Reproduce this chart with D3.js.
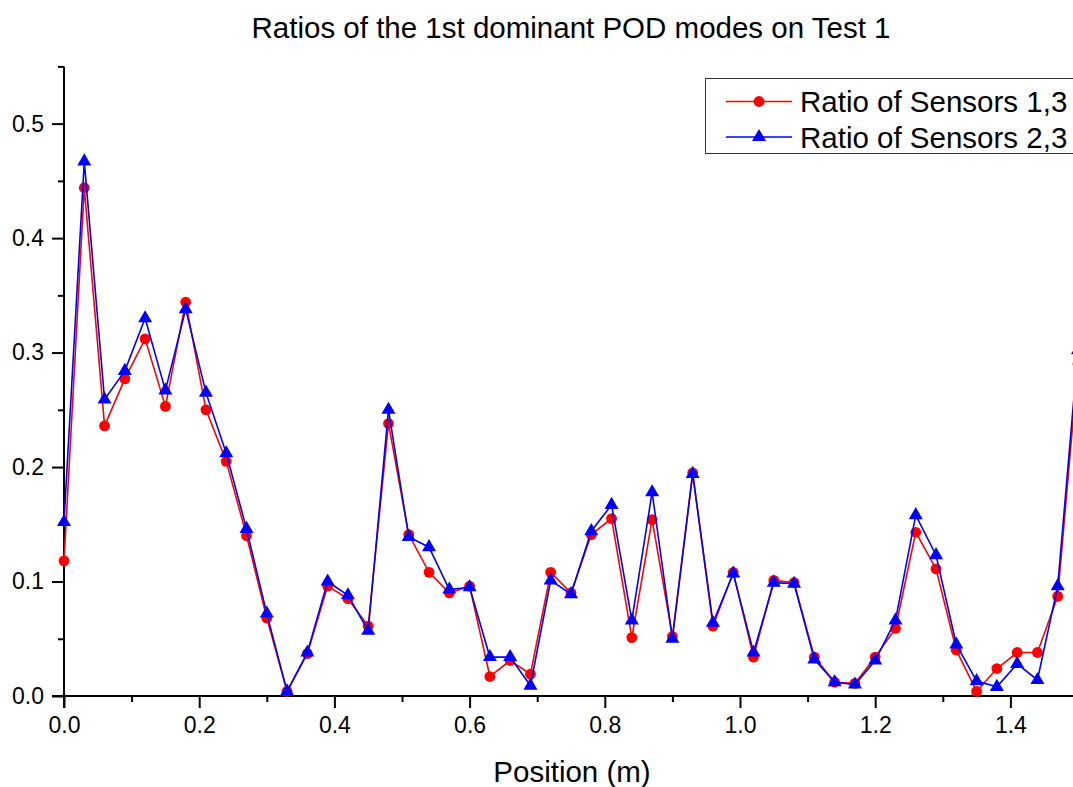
<!DOCTYPE html>
<html>
<head>
<meta charset="utf-8">
<script src="https://cdn.jsdelivr.net/npm/d3@7/dist/d3.min.js"></script>
<style>
  html, body { margin: 0; padding: 0; background: #fff; }
  svg { display: block; font-family: "Liberation Sans", Arial, Helvetica, sans-serif; }
</style>
</head>
<body>
<svg id="chart" width="1073" height="787"></svg>
<script>
// ---------------- data ----------------
const positions = [0.00, 0.03, 0.06, 0.09, 0.12, 0.15, 0.18, 0.21, 0.24, 0.27,
                   0.30, 0.33, 0.36, 0.39, 0.42, 0.45, 0.48, 0.51, 0.54, 0.57,
                   0.60, 0.63, 0.66, 0.69, 0.72, 0.75, 0.78, 0.81, 0.84, 0.87,
                   0.90, 0.93, 0.96, 0.99, 1.02, 1.05, 1.08, 1.11, 1.14, 1.17,
                   1.20, 1.23, 1.26, 1.29, 1.32, 1.35, 1.38, 1.41, 1.44, 1.47,
                   1.50];
const ratio13 = [0.118, 0.444, 0.236, 0.277, 0.312, 0.253, 0.344, 0.250, 0.205, 0.140,
                 0.068, 0.004, 0.037, 0.096, 0.085, 0.061, 0.238, 0.141, 0.108, 0.090,
                 0.096, 0.017, 0.031, 0.019, 0.108, 0.090, 0.141, 0.155, 0.051, 0.154,
                 0.052, 0.195, 0.061, 0.108, 0.034, 0.101, 0.099, 0.034, 0.012, 0.011,
                 0.034, 0.059, 0.143, 0.111, 0.040, 0.004, 0.024, 0.038, 0.038, 0.087,
                 0.290];
const ratio23 = [0.152, 0.467, 0.259, 0.284, 0.330, 0.267, 0.338, 0.265, 0.212, 0.146,
                 0.072, 0.004, 0.038, 0.100, 0.088, 0.057, 0.250, 0.139, 0.130, 0.093,
                 0.095, 0.034, 0.034, 0.009, 0.101, 0.089, 0.144, 0.167, 0.066, 0.178,
                 0.050, 0.194, 0.064, 0.107, 0.038, 0.099, 0.098, 0.032, 0.012, 0.010,
                 0.031, 0.066, 0.158, 0.123, 0.045, 0.013, 0.008, 0.028, 0.014, 0.096,
                 0.302];
const xMajorTicks = [0.0, 0.2, 0.4, 0.6, 0.8, 1.0, 1.2, 1.4];
const xMinorTicks = [0.1, 0.3, 0.5, 0.7, 0.9, 1.1, 1.3, 1.5];
const yMajorTicks = [0.0, 0.1, 0.2, 0.3, 0.4, 0.5];
const yMinorTicks = [0.05, 0.15, 0.25, 0.35, 0.45, 0.55];
const seriesNames = ["Ratio of Sensors 1,3", "Ratio of Sensors 2,3"];
const titleText = "Ratios of the 1st dominant POD modes on Test 1";
const xLabelText = "Position (m)";

// ---------------- layout ----------------
const svg = d3.select("#chart");
const mLeft = 64, mRight = 1078, mTop = 66.4, mBottom = 696;
const x = d3.scaleLinear().domain([0, 1.5]).range([mLeft, mRight]);
const y = d3.scaleLinear().domain([0, 0.55]).range([mBottom, mTop]);

const fmt = d3.format(".1f");

// x axis
const gx = svg.append("g").attr("transform", `translate(0,${mBottom})`);
gx.call(d3.axisBottom(x).tickValues(xMajorTicks).tickFormat(fmt).tickSize(12).tickPadding(9));
const gxm = svg.append("g").attr("transform", `translate(0,${mBottom})`);
gxm.call(d3.axisBottom(x).tickValues(xMinorTicks).tickFormat("").tickSize(6));
// y axis
const gy = svg.append("g").attr("transform", `translate(${mLeft},0)`);
gy.call(d3.axisLeft(y).tickValues(yMajorTicks).tickFormat(fmt).tickSize(12).tickPadding(8));
const gym = svg.append("g").attr("transform", `translate(${mLeft},0)`);
gym.call(d3.axisLeft(y).tickValues(yMinorTicks).tickFormat("").tickSize(6));

[gx, gxm, gy, gym].forEach(g => {
  g.select(".domain").attr("stroke", "#000").attr("stroke-width", 2);
  g.selectAll(".tick line").attr("stroke", "#000").attr("stroke-width", 2);
  g.selectAll(".tick text").attr("fill", "#000").style("font-size", "23px")
    .style("font-family", '"Liberation Sans", Arial, sans-serif');
});
gxm.select(".domain").remove();
gym.select(".domain").remove();
gx.select(".domain").attr("d", `M${mLeft - 12},0H${mRight}`);
gy.select(".domain").attr("d", `M0,${mTop}V${mBottom + 12}`);

// ---------------- series ----------------
const line = d3.line().x(d => x(d[0])).y(d => y(d[1]));
const d13 = positions.map((p, i) => [p, ratio13[i]]);
const d23 = positions.map((p, i) => [p, ratio23[i]]);
const triangle = d3.symbol().type(d3.symbolTriangle).size(85);

svg.append("path").datum(d13).attr("d", line)
  .attr("fill", "none").attr("stroke", "#ff0000").attr("stroke-width", 1.6);
svg.append("g").selectAll("circle").data(d13).join("circle")
  .attr("cx", d => x(d[0])).attr("cy", d => y(d[1])).attr("r", 5.4).attr("fill", "#ff0000");

svg.append("path").datum(d23).attr("d", line)
  .attr("fill", "none").attr("stroke", "#0000ff").attr("stroke-width", 1.6);
svg.append("g").selectAll("path.tri").data(d23).join("path").attr("class", "tri")
  .attr("d", triangle)
  .attr("transform", d => `translate(${x(d[0])},${y(d[1])})`).attr("fill", "#0000ff");

// ---------------- title & labels ----------------
svg.append("text").attr("x", 571).attr("y", 38).attr("text-anchor", "middle")
  .style("font-size", "29.5px").attr("fill", "#000").text(titleText);
svg.append("text").attr("x", 572).attr("y", 782).attr("text-anchor", "middle")
  .style("font-size", "29.5px").attr("fill", "#000").text(xLabelText);

// ---------------- legend ----------------
const lg = svg.append("g");
lg.append("rect").attr("x", 705.5).attr("y", 78.5).attr("width", 400).attr("height", 75)
  .attr("fill", "#fff").attr("stroke", "#333").attr("stroke-width", 1);
const legendRows = [
  { name: seriesNames[0], color: "#ff0000", shape: "circle", cy: 101.5 },
  { name: seriesNames[1], color: "#0000ff", shape: "triangle", cy: 137 }
];
legendRows.forEach(r => {
  lg.append("line").attr("x1", 726).attr("x2", 792).attr("y1", r.cy).attr("y2", r.cy)
    .attr("stroke", r.color).attr("stroke-width", 1.6);
  if (r.shape === "circle") {
    lg.append("circle").attr("cx", 759).attr("cy", r.cy).attr("r", 5.4).attr("fill", r.color);
  } else {
    lg.append("path").attr("d", triangle).attr("transform", `translate(759,${r.cy})`).attr("fill", r.color);
  }
  lg.append("text").attr("x", 800).attr("y", r.cy + 10.5).style("font-size", "29.5px")
    .attr("fill", "#000").text(r.name);
});
</script>
</body>
</html>
